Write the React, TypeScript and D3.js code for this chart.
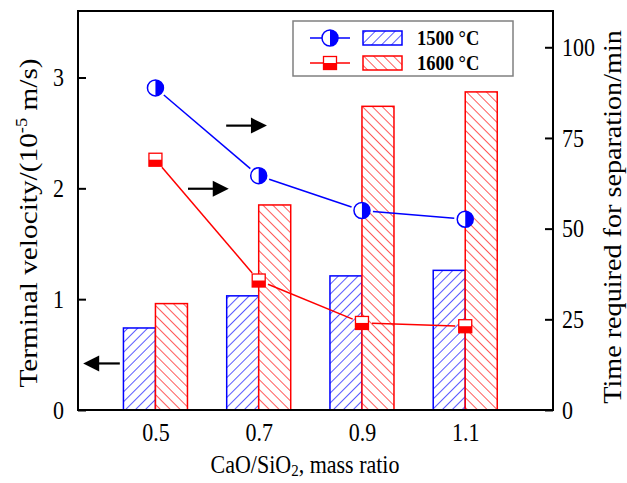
import { useEffect, useRef } from 'react';
import * as d3 from 'd3';

// CaO/SiO2 mass ratio
const categories = [0.5, 0.7, 0.9, 1.1];
// terminal velocity, 10^-5 m/s (bars, left axis)
const velocity1500 = [0.74, 1.03, 1.21, 1.26];
const velocity1600 = [0.96, 1.85, 2.74, 2.87];
// time required for separation, min (lines, right axis)
const time1500 = [88.8, 64.6, 55.0, 52.6];
const time1600 = [69.0, 35.7, 24.0, 23.1];
const leftTicks = [0, 1, 2, 3];
const rightTicks = [0, 25, 50, 75, 100];
const xTickLabels = ['0.5', '0.7', '0.9', '1.1'];

const BLUE = '#0000ff';
const RED = '#ff0000';
const FONT = '"Liberation Serif", "Times New Roman", serif';
const STRETCH = 1.15; // the source figure is a little taller than wide

export default function App() {
  const svgRef = useRef<SVGSVGElement>(null);

  useEffect(() => {
    if (!svgRef.current) return;
    const width = 627;
    const height = 483;
    const margin = { top: 11, right: 74, bottom: 73, left: 78 };
    const innerW = width - margin.left - margin.right;
    const innerH = height - margin.top - margin.bottom;

    const svg = d3.select(svgRef.current);
    svg.selectAll('*').remove();
    svg.attr('width', width).attr('height', height);

    const defs = svg.append('defs');
    const hatch = (id: string, color: string, angle: number) => {
      const p = defs.append('pattern')
        .attr('id', id)
        .attr('patternUnits', 'userSpaceOnUse')
        .attr('width', 7).attr('height', 7)
        .attr('patternTransform', `rotate(${angle})`);
      p.append('rect').attr('width', 7).attr('height', 7).attr('fill', '#fff');
      p.append('line')
        .attr('x1', 0).attr('y1', -1).attr('x2', 0).attr('y2', 8)
        .attr('stroke', color).attr('stroke-width', 1.3);
    };
    hatch('hatch-blue', BLUE, 45);
    hatch('hatch-red', RED, -45);

    const g = svg.append('g').attr('transform', `translate(${margin.left},${margin.top})`);

    const x = d3.scaleLinear().domain([0.35, 1.27]).range([0, innerW]);
    const yL = d3.scaleLinear().domain([0, 3.6]).range([innerH, 0]);
    const yR = d3.scaleLinear().domain([0, 110]).range([innerH, 0]);
    const barW = 0.062;

    // Bars
    const bars = [
      { values: velocity1500, fill: 'url(#hatch-blue)', stroke: BLUE, offset: -barW },
      { values: velocity1600, fill: 'url(#hatch-red)', stroke: RED, offset: 0 },
    ];
    bars.forEach((s) => {
      s.values.forEach((v, i) => {
        g.append('rect')
          .attr('x', x(categories[i] + s.offset))
          .attr('y', yL(v))
          .attr('width', x(barW) - x(0))
          .attr('height', innerH - yL(v))
          .attr('fill', s.fill)
          .attr('stroke', s.stroke)
          .attr('stroke-width', 1.5);
      });
    });

    // Lines with a small gap at each marker
    const drawLine = (values: number[], color: string, gap: number) => {
      const pts = values.map((v, i) => [x(categories[i]), yR(v)]);
      for (let i = 0; i < pts.length - 1; i++) {
        const [x1, y1] = pts[i];
        const [x2, y2] = pts[i + 1];
        const len = Math.hypot(x2 - x1, y2 - y1);
        const ux = (x2 - x1) / len;
        const uy = (y2 - y1) / len;
        g.append('line')
          .attr('x1', x1 + ux * gap).attr('y1', y1 + uy * gap)
          .attr('x2', x2 - ux * gap).attr('y2', y2 - uy * gap)
          .attr('stroke', color).attr('stroke-width', 1.5);
      }
    };
    drawLine(time1500, BLUE, 11);
    drawLine(time1600, RED, 10);

    const halfCircle = (sel: any, cx: number, cy: number) => {
      const r = 8;
      sel.append('circle').attr('cx', cx).attr('cy', cy).attr('r', r).attr('fill', '#fff');
      sel.append('path')
        .attr('d', `M${cx},${cy - r} A${r},${r} 0 0 1 ${cx},${cy + r} Z`)
        .attr('fill', BLUE);
      sel.append('circle').attr('cx', cx).attr('cy', cy).attr('r', r)
        .attr('fill', 'none').attr('stroke', BLUE).attr('stroke-width', 1.5);
    };
    const halfSquare = (sel: any, cx: number, cy: number) => {
      const s = 6.5;
      sel.append('rect').attr('x', cx - s).attr('y', cy - s).attr('width', 2 * s).attr('height', 2 * s)
        .attr('fill', '#fff');
      sel.append('rect').attr('x', cx - s).attr('y', cy).attr('width', 2 * s).attr('height', s)
        .attr('fill', RED);
      sel.append('rect').attr('x', cx - s).attr('y', cy - s).attr('width', 2 * s).attr('height', 2 * s)
        .attr('fill', 'none').attr('stroke', RED).attr('stroke-width', 1.3);
    };

    const markers = g.append('g');
    time1500.forEach((v, i) => halfCircle(markers, x(categories[i]), yR(v)));
    time1600.forEach((v, i) => halfSquare(markers, x(categories[i]), yR(v)));

    // Arrows (pointing to the axis each series belongs to)
    const arrow = (x1: number, x2: number, yy: number) => {
      const dir = Math.sign(x2 - x1);
      const head = 16;
      g.append('line')
        .attr('x1', x1).attr('y1', yy).attr('x2', x2 - dir * head + dir * 2).attr('y2', yy)
        .attr('stroke', '#000').attr('stroke-width', 2.2);
      g.append('path')
        .attr('d', `M${x2},${yy} L${x2 - dir * head},${yy - 8} L${x2 - dir * head},${yy + 8} Z`)
        .attr('fill', '#000');
    };
    arrow(x(0.431), x(0.36), yL(0.42));
    arrow(x(0.637), x(0.716), yR(78.4));
    arrow(x(0.563), x(0.642), yR(61));

    // Axes frame
    g.append('rect')
      .attr('width', innerW).attr('height', innerH)
      .attr('fill', 'none').attr('stroke', '#000').attr('stroke-width', 2);

    const left = g.append('g').call(d3.axisLeft(yL).tickValues(leftTicks).tickSize(-8).tickPadding(14).tickFormat(d3.format('d')));
    const right = g.append('g').attr('transform', `translate(${innerW},0)`)
      .call(d3.axisRight(yR).tickValues(rightTicks).tickSize(-8).tickPadding(9).tickFormat(d3.format('d')));
    const bottom = g.append('g').attr('transform', `translate(0,${innerH})`)
      .call(d3.axisBottom(x).tickValues(categories).tickSize(0).tickFormat((_, i) => xTickLabels[i]));
    [left, right, bottom].forEach((a) => {
      a.select('.domain').remove();
      a.selectAll('.tick line').attr('stroke', '#000').attr('stroke-width', 2);
      a.selectAll('text')
        .attr('font-family', FONT).attr('font-size', 22).attr('fill', '#000')
        .attr('transform', `scale(1,${STRETCH})`);
    });
    bottom.selectAll('text').attr('y', 31.5 / STRETCH).attr('dy', 0);

    // Axis titles
    const bt = svg.append('text')
      .attr('transform', `translate(305,473) scale(1,${STRETCH})`)
      .attr('text-anchor', 'middle')
      .attr('font-family', FONT).attr('font-size', 22);
    bt.append('tspan').text('CaO/SiO');
    bt.append('tspan').attr('font-size', 15).attr('dy', 3).text('2');
    bt.append('tspan').attr('dy', -3).text(', mass ratio');

    const lt = svg.append('text')
      .attr('transform', `translate(37,223) rotate(-90) scale(${STRETCH},1)`)
      .attr('text-anchor', 'middle')
      .attr('font-family', FONT).attr('font-size', 25.5);
    lt.append('tspan').text('Terminal velocity/(10');
    lt.append('tspan').attr('font-size', 16).attr('dy', -10).text('-5');
    lt.append('tspan').attr('dy', 10).text(' m/s)');

    svg.append('text')
      .attr('transform', `translate(621,217) rotate(-90) scale(${STRETCH},1)`)
      .attr('text-anchor', 'middle')
      .attr('font-family', FONT).attr('font-size', 24.5)
      .text('Time required for separation/min');

    // Legend
    const lg = svg.append('g');
    lg.append('rect')
      .attr('x', 293).attr('y', 21).attr('width', 220).attr('height', 55)
      .attr('fill', '#fff').attr('stroke', '#808080').attr('stroke-width', 1.5);
    const legendItems = [
      { label: '1500 °C', color: BLUE, fill: 'url(#hatch-blue)', marker: halfCircle, cy: 38 },
      { label: '1600 °C', color: RED, fill: 'url(#hatch-red)', marker: halfSquare, cy: 63 },
    ];
    legendItems.forEach((it) => {
      lg.append('line')
        .attr('x1', 310).attr('y1', it.cy).attr('x2', 350).attr('y2', it.cy)
        .attr('stroke', it.color).attr('stroke-width', 1.5);
      it.marker(lg, 330, it.cy);
      lg.append('rect')
        .attr('x', 363).attr('y', it.cy - 7).attr('width', 39).attr('height', 14)
        .attr('fill', it.fill).attr('stroke', it.color).attr('stroke-width', 1.5);
      lg.append('text')
        .attr('transform', `translate(417,${it.cy + 7}) scale(1,${STRETCH})`)
        .attr('font-family', FONT).attr('font-size', 18.5).attr('font-weight', 'bold')
        .text(it.label);
    });
  }, []);

  return (
    <div style={{ position: 'absolute', left: 0, top: 0, background: '#fff' }}>
      <svg ref={svgRef} style={{ display: 'block' }}></svg>
    </div>
  );
}
